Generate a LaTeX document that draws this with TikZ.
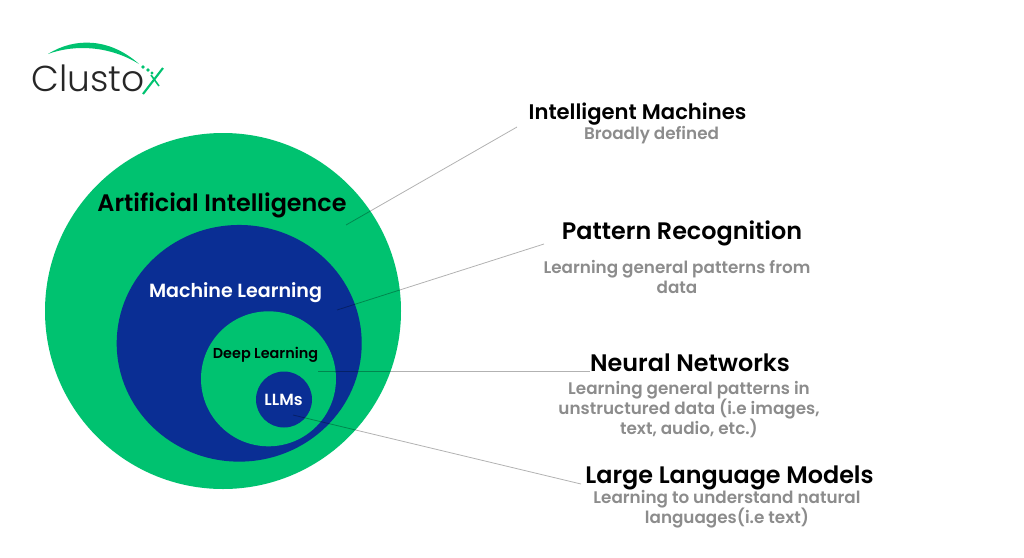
\documentclass[tikz,border=0pt]{standalone}
\usetikzlibrary{shapes.geometric}
\usepackage{fontspec}
\setmainfont{Poppins}
\newfontfamily\medfont{Poppins SemiBold}
\newfontfamily\lightfont{Poppins Light}
\newcommand\subfont{\medfont\fontsize{12.6}{15}\selectfont\setlength{\lineskiplimit}{-8pt}\setlength{\lineskip}{0pt}}
\definecolor{cgreen}{rgb}{0.0,0.76,0.44}
\definecolor{cblue}{rgb}{0.04,0.18,0.58}
\definecolor{cgrey}{rgb}{0.55,0.55,0.55}
\tikzset{every picture/.style={line width=0.75pt}}
\tikzset{
  disc/.style={circle,inner sep=0pt,minimum size=#1*0.75pt},
  headline/.style={align=center,text=black,font=\medfont\fontsize{17.9}{21}\selectfont},
  subline/.style={align=center,text=cgrey,font=\subfont},
  leader/.style={draw=black,opacity=0.3,line width=0.6pt},
}
\begin{document}
\begin{tikzpicture}[x=0.75pt,y=0.75pt,yscale=-1,xscale=1]
\useasboundingbox (0,0) rectangle (1024,557);

% Circles
\node (ai) [disc=356,fill=cgreen] at (223,311) {};
\node (ml) [ellipse,inner sep=0pt,minimum width=183.75pt,minimum height=177.5pt,fill=cblue] at (239.2,343.3) {};
\node (dl) [disc=135,fill=cgreen] at (268.5,378.8) {};
\node (llm) [disc=56,fill=cblue] at (284,399.5) {};

% Circle labels
\node (ailabel) [text=black,font=\medfont\fontsize{17.9}{20}\selectfont] at (222,205.5) {Artificial Intelligence};
\node (mllabel) [text=white,font=\medfont\fontsize{14.3}{17}\selectfont] at (235.5,293) {Machine Learning};
\node (dllabel) [text=black,font=\medfont\fontsize{10.8}{13}\selectfont] at (265.5,355) {Deep Learning};
\node (llmlabel) [text=white,font=\medfont\fontsize{12.1}{13}\selectfont] at (283.5,400) {LLMs};

% Right column
\node (h1) [headline,font=\medfont\fontsize{15.85}{21}\selectfont] at (637.5,114) {Intelligent Machines};
\node (s1) [subline] at (651.5,135) {Broadly defined};
\node (h2) [headline] at (682,233) {Pattern Recognition};
\node (s2) [subline] at (677,277) {Learning general patterns from\\data};
\node (h3) [headline] at (690,363) {Neural Networks};
\node (s3) [subline] at (689,409.5) {Learning general patterns in\\unstructured data (i.e images,\\text, audio, etc.)};
\node (h4) [headline] at (729.5,478) {Large Language Models};
\node (s4) [subline] at (727,509) {Learning to understand natural\\languages(i.e text)};

% Connection
\coordinate (a1) at (346,225);
\coordinate (b1) at (517,127);
\coordinate (a2) at (337,310);
\coordinate (b2) at (544,244);
\coordinate (a3) at (318,371);
\coordinate (b3) at (590,371);
\coordinate (a4) at (293,415);
\coordinate (b4) at (581,484);
\draw [leader] (a1) -- (b1);
\draw [leader] (a2) -- (b2);
\draw [leader] (a3) -- (b3);
\draw [leader] (a4) -- (b4);

% Logo
\node (logo) [anchor=west,inner sep=0pt,text=black!85,font=\lightfont\fontsize{27}{30}\selectfont] at (31,78) {Clusto};
\coordinate (swooshl) at (48,54);
\coordinate (swooshr) at (139,64);
\fill [cgreen] (swooshl) .. controls (75,37) and (110,38) .. (swooshr) .. controls (110,46) and (75,44) .. cycle;
\coordinate (xa) at (143,94);
\coordinate (xb) at (163,68);
\coordinate (xc) at (151,75);
\coordinate (xd) at (159,86);
\draw [cgreen,line width=1.6pt] (xa) -- (xb);
\draw [cgreen,line width=1.2pt] (xc) -- (xd);
\fill [cgreen] (143,67) circle (1.8) (148,70) circle (1.8) (152,73) circle (1.6);
\end{tikzpicture}
\end{document}
